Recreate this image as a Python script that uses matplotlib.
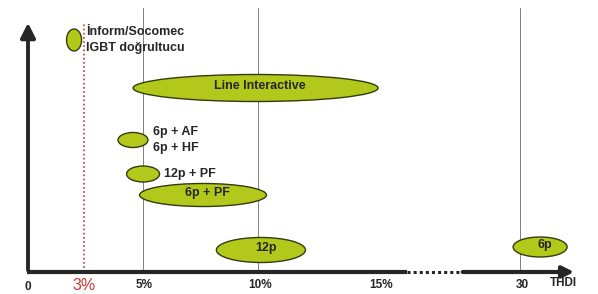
import matplotlib
matplotlib.use("Agg")
import matplotlib.pyplot as plt
from matplotlib.patches import Ellipse

plt.rcParams['font.family'] = ['Liberation Sans', 'DejaVu Sans']

# THDI ranges (schematic axis, 30% is drawn after a break)
labels = ["İnform/Socomec\nIGBT doğrultucu", "Line Interactive", "6p + AF\n6p + HF",
          "12p + PF", "6p + PF", "12p", "6p"]
thdi_min = [1.66, 4.53, 3.88, 4.25, 4.81, 8.12, 20.91]
thdi_max = [2.31, 15.09, 5.17, 5.67, 10.28, 11.96, 23.24]
level = [23.2, 18.4, 13.2, 9.8, 7.7, 2.2, 2.5]
thickness = [2.2, 2.7, 1.5, 1.6, 2.3, 2.5, 2.0]
label_inside = [False, True, False, False, True, True, True]

tick_pos = [0, 2.42, 5, 10, 15.2, 21.3]
tick_lab = ["0", "3%", "5%", "10%", "15%", "30"]
grid_pos = [4.95, 9.92, 21.21]
limit_pos = 2.42
break_start, break_end = 16.34, 18.62

fig = plt.figure(figsize=(5.98, 2.94), dpi=100)
ax = fig.add_axes([0, 0, 1, 1])
ax.set_xlim(-1.207, 24.57)
ax.set_ylim(-2.2, 27.2)
ax.axis('off')

ink = '#262626'
for gx in grid_pos:
    ax.plot([gx, gx], [0, 26.4], color='#808080', lw=0.7, zorder=1)
ax.plot([limit_pos, limit_pos], [0, 24.9], color='#cc3333', lw=1.2, ls=(0, (1, 1.5)), zorder=1)

for lab, lo, hi, y, h, inside in zip(labels, thdi_min, thdi_max, level, thickness, label_inside):
    cx = (lo + hi) / 2
    e = Ellipse((cx, y), hi - lo, h, facecolor='#b2c91c', edgecolor='#353a10', lw=1.0, zorder=3)
    ax.add_patch(e)
    if inside:
        ax.text(cx + 0.2, y + 0.2, lab, ha='center', va='center', fontsize=9,
                fontweight='bold', color=ink, zorder=4)
    else:
        ax.text(hi + 0.2, y, lab, ha='left', va='center', fontsize=9,
                fontweight='bold', color=ink, linespacing=1.35, zorder=4)

# axes with arrows
ax.annotate('', xy=(0, 25.2), xytext=(0, -0.1),
            arrowprops=dict(arrowstyle='-|>', lw=2.8, color=ink, mutation_scale=22), zorder=5)
ax.plot([-0.05, break_start], [0, 0], color=ink, lw=3, solid_capstyle='butt', zorder=5)
ax.plot([break_start, break_end], [0, 0], color=ink, lw=2.2, ls=(0, (1, 1)), zorder=5)
ax.annotate('', xy=(23.66, 0), xytext=(break_end, 0),
            arrowprops=dict(arrowstyle='-|>', lw=3, color=ink, mutation_scale=17), zorder=5)

for p, t in zip(tick_pos, tick_lab):
    if t == "3%":
        ax.text(p, -1.35, t, ha='center', va='center', fontsize=11.5, color='#cc3333')
    elif t == "0":
        ax.text(p, -1.45, t, ha='center', va='center', fontsize=8.5, fontweight='bold', color=ink)
    else:
        ax.text(p, -1.25, t, ha='center', va='center', fontsize=8.5, fontweight='bold', color=ink)
ax.text(23.1, -1.15, "THDI", ha='center', va='center', fontsize=8.5, fontweight='bold', color=ink)

fig.savefig("out.png", dpi=100)
